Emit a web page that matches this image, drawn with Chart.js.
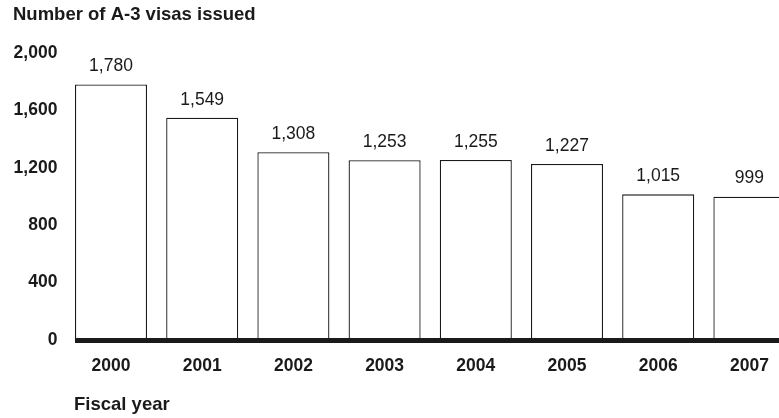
<!DOCTYPE html>
<html>
<head>
<meta charset="utf-8">
<script src="https://cdn.jsdelivr.net/npm/chart.js@4.4.1/dist/chart.umd.min.js"></script>
<style>
  body { margin: 0; background: #fff; overflow: hidden; }
  #wrap { width: 800px; height: 418px; }
</style>
</head>
<body>
<div id="wrap"><canvas id="graph" width="800" height="418"></canvas></div>
<script>
const years = ["2000","2001","2002","2003","2004","2005","2006","2007"];
const visas = [1780, 1549, 1308, 1253, 1255, 1227, 1015, 999];
const yTicks = [0, 400, 800, 1200, 1600, 2000];

const FONT = "'Liberation Sans', Arial, Helvetica, sans-serif";
const INK = "#1a1a1a";

// titles, thick zero line and value labels
const extras = {
  id: "extras",
  afterDatasetsDraw(chart) {
    const c = chart.ctx;
    const meta = chart.getDatasetMeta(0);
    const y0 = chart.scales.y.getPixelForValue(0);
    c.save();
    c.fillStyle = INK;
    c.textBaseline = "middle";
    c.font = "bold 18.5px " + FONT;
    c.textAlign = "left";
    c.fillText("Number of A-3 visas issued", 13, 15);
    c.fillText("Fiscal year", 74, 405);

    // baseline
    const first = meta.data[0];
    c.fillRect(first.x - first.width / 2, y0 - 2, chart.width, 5);

    // value labels
    c.font = "17.5px " + FONT;
    c.textAlign = "center";
    meta.data.forEach((bar, i) => {
      c.fillText(visas[i].toLocaleString("en-US"), bar.x, bar.y - 18);
    });
    c.restore();
  }
};

new Chart(document.getElementById("graph"), {
  type: "bar",
  data: {
    labels: years,
    datasets: [{
      data: visas,
      backgroundColor: "#fff",
      borderColor: INK,
      borderWidth: 1.3,
      barPercentage: 0.79,
      categoryPercentage: 1
    }]
  },
  options: {
    responsive: false,
    animation: false,
    devicePixelRatio: 1,
    layout: { padding: { top: 53, right: 5, left: 0, bottom: 0 } },
    plugins: { legend: { display: false }, tooltip: { enabled: false } },
    scales: {
      x: {
        grid: { display: false, drawTicks: false },
        border: { display: false },
        ticks: { color: INK, font: { family: FONT, size: 17.5, weight: "bold" }, padding: 16 },
        afterFit(s) { s.height = 78; }
      },
      y: {
        min: 0,
        max: 2000,
        afterBuildTicks(s) { s.ticks = yTicks.map(v => ({ value: v })); },
        grid: { display: false, drawTicks: false },
        border: { display: false },
        ticks: {
          color: INK,
          font: { family: FONT, size: 17.5, weight: "bold" },
          padding: 8,
          callback: v => v.toLocaleString("en-US")
        },
        afterFit(s) { s.width = 65.4; }
      }
    }
  },
  plugins: [extras]
});
</script>
</body>
</html>
